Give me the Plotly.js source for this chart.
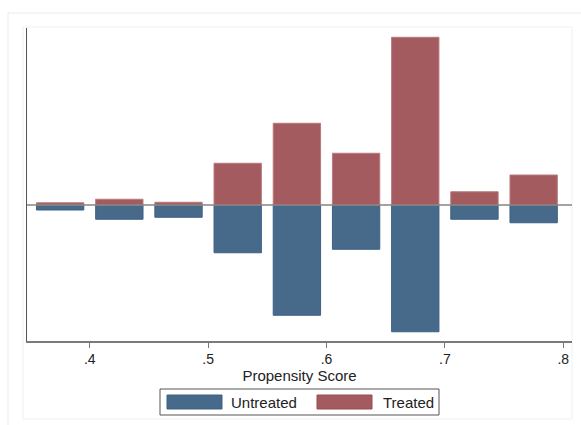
<!DOCTYPE html>
<html>
<head>
<meta charset="utf-8">
<script src="https://cdn.plot.ly/plotly-3.0.1.min.js"></script>
<style>
  html, body { margin: 0; padding: 0; background: #ffffff; }
  #chart { width: 581px; height: 425px; }
</style>
</head>
<body>
<div id="chart"></div>
<script>
// Propensity score bins (bin centres) and counts per group
const binCenters = [0.375, 0.425, 0.475, 0.525, 0.575, 0.625, 0.675, 0.725, 0.775];
const treated    = [0.9, 2.3, 1.1, 16.7, 32.7, 20.7, 67.1, 5.3, 12.0];
const untreated  = [2.0, 5.7, 4.9, 19.1, 44.1, 17.7, 50.7, 5.7, 7.1];
const tickValues = [0.4, 0.5, 0.6, 0.7, 0.8];
const tickLabels = ['.4', '.5', '.6', '.7', '.8'];
const seriesNames = ['Untreated', 'Treated'];

const W = 581, H = 425;
const M = { l: 27, r: 9, t: 28, b: 84 };
const plotW = W - M.l - M.r, plotH = H - M.t - M.b;

// pixel -> paper coordinate helpers for decorations
const px = v => (v - M.l) / plotW;
const py = v => (H - M.b - v) / plotH;

const blueFill = '#476a8b', blueLine = '#3d6185';
const redFill = '#a45b5f', redLine = '#9a4a50';
const font = '"Liberation Sans", Arial, sans-serif';

const traces = [
  {
    type: 'bar', name: seriesNames[0],
    x: binCenters, y: untreated.map(v => -v), width: 0.04,
    marker: { color: blueFill, line: { color: blueLine, width: 1 } },
    hoverinfo: 'skip'
  },
  {
    type: 'bar', name: seriesNames[1],
    x: binCenters, y: treated, width: 0.04,
    marker: { color: redFill, line: { color: '#b97a7e', width: 1 } },
    hoverinfo: 'skip'
  }
];

const shapes = [
  // graph region frames
  { type: 'rect', xref: 'paper', yref: 'paper', x0: px(8), x1: px(600), y0: py(13), y1: py(440),
    line: { color: '#e4eded', width: 1 }, fillcolor: 'rgba(0,0,0,0)', layer: 'below' },
  { type: 'rect', xref: 'paper', yref: 'paper', x0: px(23), x1: px(572), y0: py(27), y1: py(419),
    line: { color: '#edf2f2', width: 1 }, fillcolor: 'rgba(0,0,0,0)', layer: 'below' },
  // zero reference line
  { type: 'line', xref: 'paper', yref: 'y', x0: 0, x1: 1, y0: 0, y1: 0,
    line: { color: '#858585', width: 1.6 }, layer: 'above' },
  // legend box and swatches
  { type: 'rect', xref: 'paper', yref: 'paper', x0: px(160), x1: px(439), y0: py(389), y1: py(415),
    line: { color: '#555555', width: 1 }, fillcolor: '#ffffff' },
  { type: 'rect', xref: 'paper', yref: 'paper', x0: px(167), x1: px(222), y0: py(395), y1: py(409),
    line: { color: blueLine, width: 1 }, fillcolor: blueFill },
  { type: 'rect', xref: 'paper', yref: 'paper', x0: px(317), x1: px(372), y0: py(395), y1: py(409),
    line: { color: redLine, width: 1 }, fillcolor: redFill }
];

const annotations = [
  { xref: 'paper', yref: 'paper', x: px(229), y: py(402), xanchor: 'left', yanchor: 'middle',
    text: seriesNames[0], showarrow: false, font: { family: font, size: 15, color: '#222' } },
  { xref: 'paper', yref: 'paper', x: px(381), y: py(402), xanchor: 'left', yanchor: 'middle',
    text: seriesNames[1], showarrow: false, font: { family: font, size: 15, color: '#222' } }
];

const layout = {
  width: W, height: H,
  margin: M,
  paper_bgcolor: '#ffffff', plot_bgcolor: '#ffffff',
  barmode: 'overlay',
  showlegend: false,
  font: { family: font, size: 14, color: '#222' },
  xaxis: {
    range: [0.347, 0.8074],
    tickvals: tickValues, ticktext: tickLabels,
    ticks: 'outside', ticklen: 5, tickwidth: 1, tickcolor: '#777',
    showline: true, linecolor: '#7a7a7a', linewidth: 1.5,
    showgrid: false, zeroline: false,
    tickfont: { size: 14, color: '#222' },
    title: { text: 'Propensity Score', standoff: 1, font: { size: 15, color: '#222' } },
    automargin: false
  },
  yaxis: {
    range: [-54.4, 70.8],
    showticklabels: false, ticks: '',
    showline: true, linecolor: '#555', linewidth: 1.5,
    showgrid: false, zeroline: false,
    automargin: false
  },
  shapes: shapes,
  annotations: annotations
};

Plotly.newPlot('chart', traces, layout, { displayModeBar: false, staticPlot: true });
</script>
</body>
</html>
